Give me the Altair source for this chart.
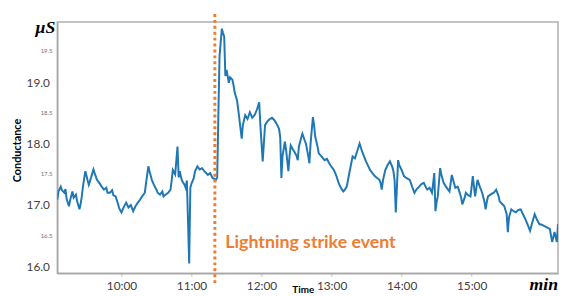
import altair as alt
import pandas as pd

DAY = "2020-01-01T"

times = [
"09:05","09:06","09:08","09:09","09:11","09:12","09:13","09:15","09:16","09:17","09:18","09:19","09:21","09:22","09:24","09:25","09:26","09:27","09:29","09:30",
"09:31","09:32","09:34","09:36","09:37","09:39","09:41","09:43","09:45","09:47","09:48","09:50","09:52","09:53","09:55","09:57","09:58","10:00","10:02","10:04",
"10:06","10:08","10:10","10:12","10:14","10:16","10:18","10:20","10:21","10:23","10:24","10:26","10:28","10:30","10:31","10:33","10:35","10:36","10:38","10:40",
"10:42","10:43","10:44","10:46","10:48","10:49","10:50","10:51","10:52","10:54","10:55","10:56","10:57","10:58","10:59","11:00","11:02","11:03","11:05","11:07",
"11:09","11:11","11:14","11:16","11:18","11:21","11:22","11:23","11:24","11:26","11:27","11:28","11:29","11:30","11:32","11:33","11:35","11:36","11:37","11:39",
"11:40","11:41","11:43","11:44","11:46","11:48","11:50","11:52","11:54","11:56","11:58","11:59","12:01","12:03","12:05","12:07","12:09","12:11","12:13","12:15",
"12:16","12:17","12:18","12:20","12:21","12:23","12:24","12:25","12:27","12:28","12:30","12:31","12:32","12:34","12:35","12:37","12:38","12:40","12:41","12:42",
"12:44","12:45","12:46","12:48","12:49","12:51","12:54","12:56","12:58","13:00","13:02","13:04","13:06","13:08","13:10","13:11","13:13","13:15","13:18","13:20",
"13:22","13:24","13:26","13:29","13:31","13:33","13:35","13:37","13:39","13:41","13:42","13:43","13:44","13:46","13:48","13:50","13:52","13:53","13:54","13:55",
"13:56","13:57","13:58","14:00","14:02","14:04","14:07","14:09","14:11","14:13","14:15","14:17","14:19","14:21","14:22","14:24","14:26","14:27","14:28","14:29",
"14:30","14:31","14:33","14:34","14:36","14:38","14:41","14:42","14:43","14:45","14:46","14:48","14:49","14:51","14:52","14:54","14:55","14:57","14:59","15:00",
"15:01","15:02","15:03","15:05","15:07","15:09","15:11","15:12","15:13","15:14","15:17","15:19","15:21","15:23","15:24","15:26","15:28","15:30","15:31","15:32",
"15:34","15:36","15:38","15:40","15:42","15:44","15:46","15:48","15:50","15:52","15:54","15:56","15:58","16:00","16:02","16:04","16:07","16:08","16:09","16:10",
"16:11","16:12","16:13","16:14",
]

conductance = [
17.09,17.22,17.30,17.24,17.20,17.26,17.10,16.98,17.08,17.15,17.22,17.12,17.17,17.06,16.93,17.02,17.14,17.30,17.55,17.48,
17.40,17.33,17.45,17.58,17.52,17.41,17.36,17.30,17.25,17.28,17.20,17.20,17.24,17.16,17.14,17.02,16.95,16.88,16.97,17.04,
16.96,17.00,16.90,16.98,17.04,17.09,17.15,17.20,17.35,17.63,17.55,17.41,17.32,17.25,17.20,17.17,17.22,17.14,17.17,17.20,
17.25,17.40,17.57,17.50,17.95,17.45,17.55,17.45,17.39,17.33,17.28,17.40,16.74,16.05,17.28,17.35,17.44,17.55,17.63,17.58,
17.60,17.55,17.49,17.52,17.44,17.41,17.45,18.46,19.42,19.87,19.80,19.74,19.10,19.20,18.99,19.08,19.04,18.95,18.83,18.70,
18.56,18.40,18.08,18.30,18.46,18.40,18.51,18.42,18.46,18.55,18.67,18.30,17.71,18.30,18.36,18.40,18.42,18.38,18.32,18.24,
18.10,17.44,17.80,18.03,17.90,17.55,17.80,17.97,17.90,17.87,17.80,17.73,17.95,18.10,18.16,18.05,18.00,17.80,17.68,18.00,
18.43,18.30,18.11,17.95,17.84,17.80,17.73,17.75,17.68,17.62,17.57,17.48,17.36,17.28,17.22,17.24,17.30,17.50,17.79,17.76,
17.88,18.00,17.88,17.73,17.65,17.57,17.52,17.47,17.44,17.41,17.36,17.25,17.40,17.57,17.65,17.71,17.62,17.55,17.40,16.88,
17.30,17.73,17.65,17.57,17.47,17.44,17.41,17.30,17.20,17.26,17.30,17.34,17.36,17.28,17.25,17.28,17.20,17.35,17.52,16.90,
17.05,17.14,17.60,17.50,17.36,17.30,17.22,17.35,17.49,17.35,17.28,17.30,17.25,17.12,17.01,17.12,17.20,17.16,17.14,17.30,
17.47,17.30,17.14,17.41,17.30,17.20,17.05,16.93,17.05,17.14,17.18,17.20,17.25,17.15,17.06,17.02,16.98,16.85,16.56,16.80,
16.93,16.90,16.88,16.92,16.93,16.85,16.77,16.68,16.58,16.72,16.85,16.76,16.69,16.68,16.66,16.64,16.61,16.50,16.40,16.48,
16.56,16.48,16.40,16.69,
]

x_ticks = ["10:00", "11:00", "12:00", "13:00", "14:00", "15:00"]
y_major = [16.0, 17.0, 18.0, 19.0]
y_minor = [16.5, 17.5, 18.5, 19.5]
x_range = ["09:05", "16:14"]
y_range = [15.89, 19.98]
event_time = ["11:20"]
event_label = ["Lightning strike event"]
label_time = ["11:29"]
label_value = [16.30]

df = pd.DataFrame({"t": [DAY + t for t in times], "v": conductance})
ev = pd.DataFrame({"t": [DAY + t for t in event_time]})
lab = pd.DataFrame({"t": [DAY + t for t in label_time], "v": label_value, "txt": event_label})
minor = pd.DataFrame({"v": y_minor, "txt": [f"{v:.1f}" for v in y_minor]})

xscale = alt.Scale(domain=[DAY + t for t in x_range])
yscale = alt.Scale(domain=y_range, nice=False, zero=False)

FONT = "Lato"
ORANGE = "#ED7D31"

xaxis = alt.Axis(
    values=[alt.DateTime(year=2020, month=1, date=1, hours=int(t[:2]), minutes=0) for t in x_ticks],
    format="%H:%M", labelFont=FONT, labelFontSize=12, labelColor="#404040",
    tickSize=3, tickColor="#c0c0c0", labelPadding=5, grid=False,
    domainColor="#a8a8a8", domainWidth=1.5,
    title="Time", titleFont=FONT, titleFontSize=10, titleFontWeight="bold",
    titleColor="#000000", titleBaseline="alphabetic", titleY=20, titleX=249, titleAlign="center",
)
yaxis = alt.Axis(
    values=y_major, format=".1f", labelFont=FONT, labelFontSize=12, labelColor="#404040",
    labelPadding=8, tickSize=0, grid=False,
    domainColor="#a8a8a8", domainWidth=1.5,
    title="Conductance", titleFont=FONT, titleFontSize=11, titleFontWeight="bold",
    titleColor="#000000", titleAngle=270, titleX=-40, titleY=130, titleBaseline="middle",
    titleAlign="center",
)

line = alt.Chart(df).mark_line(color="#1f77b4", strokeWidth=2, clip=True).encode(
    x=alt.X("t:T", scale=xscale, axis=xaxis),
    y=alt.Y("v:Q", scale=yscale, axis=yaxis),
)

minor_labels = alt.Chart(minor).mark_text(
    font=FONT, fontSize=6, color="#707070", align="right", baseline="middle"
).encode(
    x=alt.value(-5),
    y=alt.Y("v:Q", scale=yscale),
    text="txt:N",
)

rule = alt.Chart(ev).mark_rule(color=ORANGE, strokeWidth=3, strokeDash=[3, 3]).encode(
    x=alt.X("t:T", scale=xscale),
    y=alt.value(-8),
    y2=alt.value(265),
)

label = alt.Chart(lab).mark_text(
    color=ORANGE, font=FONT, fontSize=18, fontWeight="bold", align="left", baseline="alphabetic"
).encode(
    x=alt.X("t:T", scale=xscale),
    y=alt.Y("v:Q", scale=yscale),
    text="txt:N",
)

units = pd.DataFrame({"txt": ["μS", "min"]})
mu = alt.Chart(units.iloc[[0]]).mark_text(
    font="Liberation Serif", fontSize=18, fontWeight="bold", fontStyle="italic",
    align="right", baseline="alphabetic", color="#000000"
).encode(x=alt.value(-2), y=alt.value(11), text="txt:N")
mn = alt.Chart(units.iloc[[1]]).mark_text(
    font="Liberation Serif", fontSize=18, fontWeight="bold", fontStyle="italic",
    align="right", baseline="alphabetic", color="#000000"
).encode(x=alt.value(508), y=alt.value(272), text="txt:N")

chart = alt.layer(line, minor_labels, rule, label, mu, mn).properties(
    width=508, height=255,
    autosize=alt.AutoSizeParams(type="none"),
    padding={"left": 50, "top": 12, "right": 1, "bottom": 21},
    background="#ffffff",
).configure_view(stroke="#b0b0b0", strokeWidth=1.5)

chart.save("out.html", embed_options={"renderer": "svg", "actions": False})
